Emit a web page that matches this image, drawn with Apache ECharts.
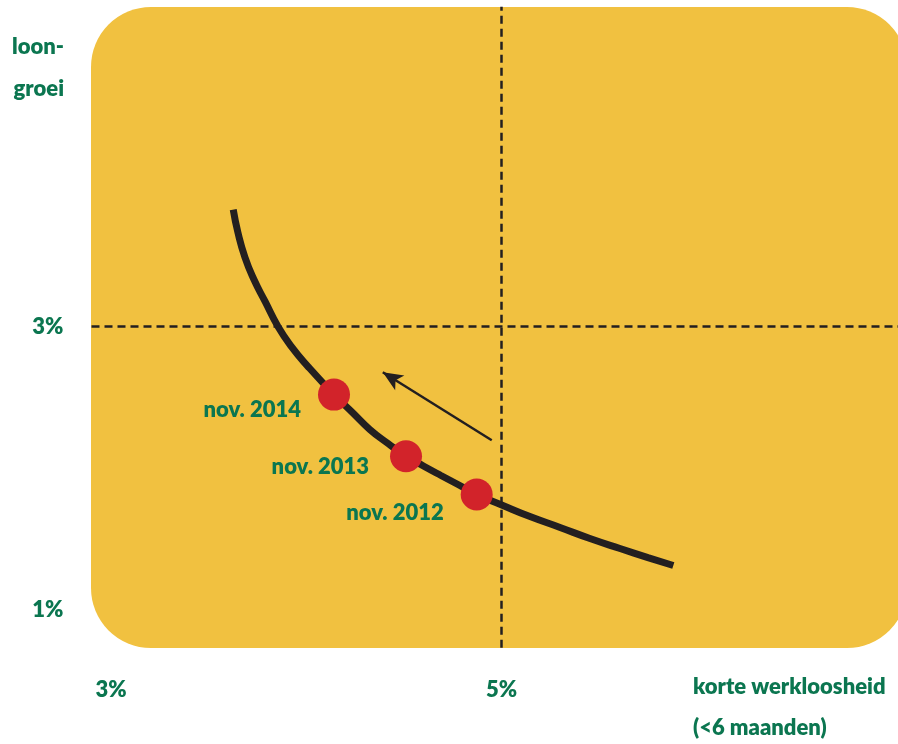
<!DOCTYPE html>
<html>
<head>
<meta charset="utf-8">
<script src="https://cdn.jsdelivr.net/npm/echarts@6/dist/echarts.min.js"></script>
<style>
html,body{margin:0;padding:0;background:#fff;}
#c{width:898px;height:744px;}
</style>
</head>
<body>
<div id="c"></div>
<script>
// Phillips-type curve: korte werkloosheid (%) vs loongroei (%)
var curveX = [3.626, 3.650, 3.686, 3.732, 3.789, 3.855, 3.927, 4.009, 4.142, 4.234, 4.326, 4.419, 4.511, 4.600, 4.690, 4.782, 4.873, 5.001, 5.146, 5.300, 5.453, 5.607, 5.750, 5.880];
var curveY = [3.826, 3.664, 3.488, 3.332, 3.177, 3.000, 2.852, 2.717, 2.519, 2.396, 2.272, 2.173, 2.083, 2.014, 1.947, 1.880, 1.813, 1.739, 1.657, 1.580, 1.502, 1.431, 1.367, 1.311];

var pointLabels = ['nov. 2014', 'nov. 2013', 'nov. 2012'];
var pointX = [4.142, 4.511, 4.873];
var pointY = [2.519, 2.083, 1.813];

var xTicks = [3, 5];
var yTicks = [1, 3];
var refX = 5;   // vertical dashed reference
var refY = 3;   // horizontal dashed reference

var arrowFrom = [4.95, 2.196];
var arrowTo = [4.392, 2.677];

var xMin = 2.9, xMax = 7.1, yMin = 0.7, yMax = 5.3;

var GREEN = '#0b7650';
var FONT = 'Lato';
var FS = 22;
var FW = 800;

var curveData = curveX.map(function (x, i) { return [x, curveY[i]]; });
var labelOffsets = [[0, 15], [0, 11], [0, 18]];
var labelDist = [17, 21, 17];
var pointData = pointX.map(function (x, i) {
  return {
    value: [x, pointY[i]],
    name: pointLabels[i],
    label: { distance: labelDist[i], offset: labelOffsets[i] }
  };
});

var chart = echarts.init(document.getElementById('c'), null, { renderer: 'canvas' });
chart.setOption({
  backgroundColor: '#ffffff',
  animation: false,
  grid: { left: 91.5, top: 1, width: 820, height: 651, containLabel: false, outerBoundsMode: 'none' },
  xAxis: {
    type: 'value', min: xMin, max: xMax,
    axisLine: { show: false }, axisTick: { show: false }, splitLine: { show: false },
    axisLabel: {
      customValues: xTicks, formatter: '{value}%', margin: 27,
      color: GREEN, fontFamily: FONT, fontWeight: FW, fontSize: FS
    }
  },
  yAxis: {
    type: 'value', min: yMin, max: yMax,
    axisLine: { show: false }, axisTick: { show: false }, splitLine: { show: false },
    axisLabel: {
      customValues: yTicks, formatter: '{value}%', margin: 28,
      color: GREEN, fontFamily: FONT, fontWeight: FW, fontSize: FS
    }
  },
  graphic: [
    { type: 'rect', z: -10, silent: true,
      shape: { x: 91, y: 7, width: 816, height: 641, r: 60 },
      style: { fill: '#f1c140' } },
    { type: 'text', right: 898 - 64, top: 36,
      style: { text: 'loon-', fill: GREEN, font: FW + ' ' + FS + 'px ' + FONT } },
    { type: 'text', right: 898 - 64, top: 78,
      style: { text: 'groei', fill: GREEN, font: FW + ' ' + FS + 'px ' + FONT } },
    { type: 'text', left: 693, top: 676,
      style: { text: 'korte werkloosheid', fill: GREEN, font: FW + ' ' + FS + 'px ' + FONT } },
    { type: 'text', left: 693, top: 717,
      style: { text: '(<6 maanden)', fill: GREEN, font: FW + ' ' + FS + 'px ' + FONT } }
  ],
  series: [
    {
      type: 'line', data: [[refX, 0.73], [refX, 5.26]], symbol: 'none', z: 1,
      lineStyle: { color: '#231f20', width: 2.5, type: [8, 5] }
    },
    {
      type: 'line', data: [[xMin, refY], [xMax, refY]], symbol: 'none', z: 1,
      lineStyle: { color: '#231f20', width: 2.5, type: [8, 5] }
    },
    {
      type: 'line', data: curveData, symbol: 'none', smooth: 0.5, z: 3,
      lineStyle: { color: '#231f20', width: 7, cap: 'butt' },
      markLine: {
        silent: true, symbol: ['none', 'arrow'], symbolSize: [13, 20],
        label: { show: false },
        lineStyle: { color: '#231f20', width: 2.5, type: 'solid' },
        data: [[{ coord: arrowFrom }, { coord: arrowTo }]]
      }
    },
    {
      type: 'scatter', data: pointData, symbolSize: 32, z: 5,
      itemStyle: { color: '#d2232a', opacity: 1 },
      label: {
        show: true, position: 'left', formatter: '{b}',
        color: GREEN, fontFamily: FONT, fontWeight: FW, fontSize: FS
      }
    }
  ]
});
</script>
</body>
</html>
